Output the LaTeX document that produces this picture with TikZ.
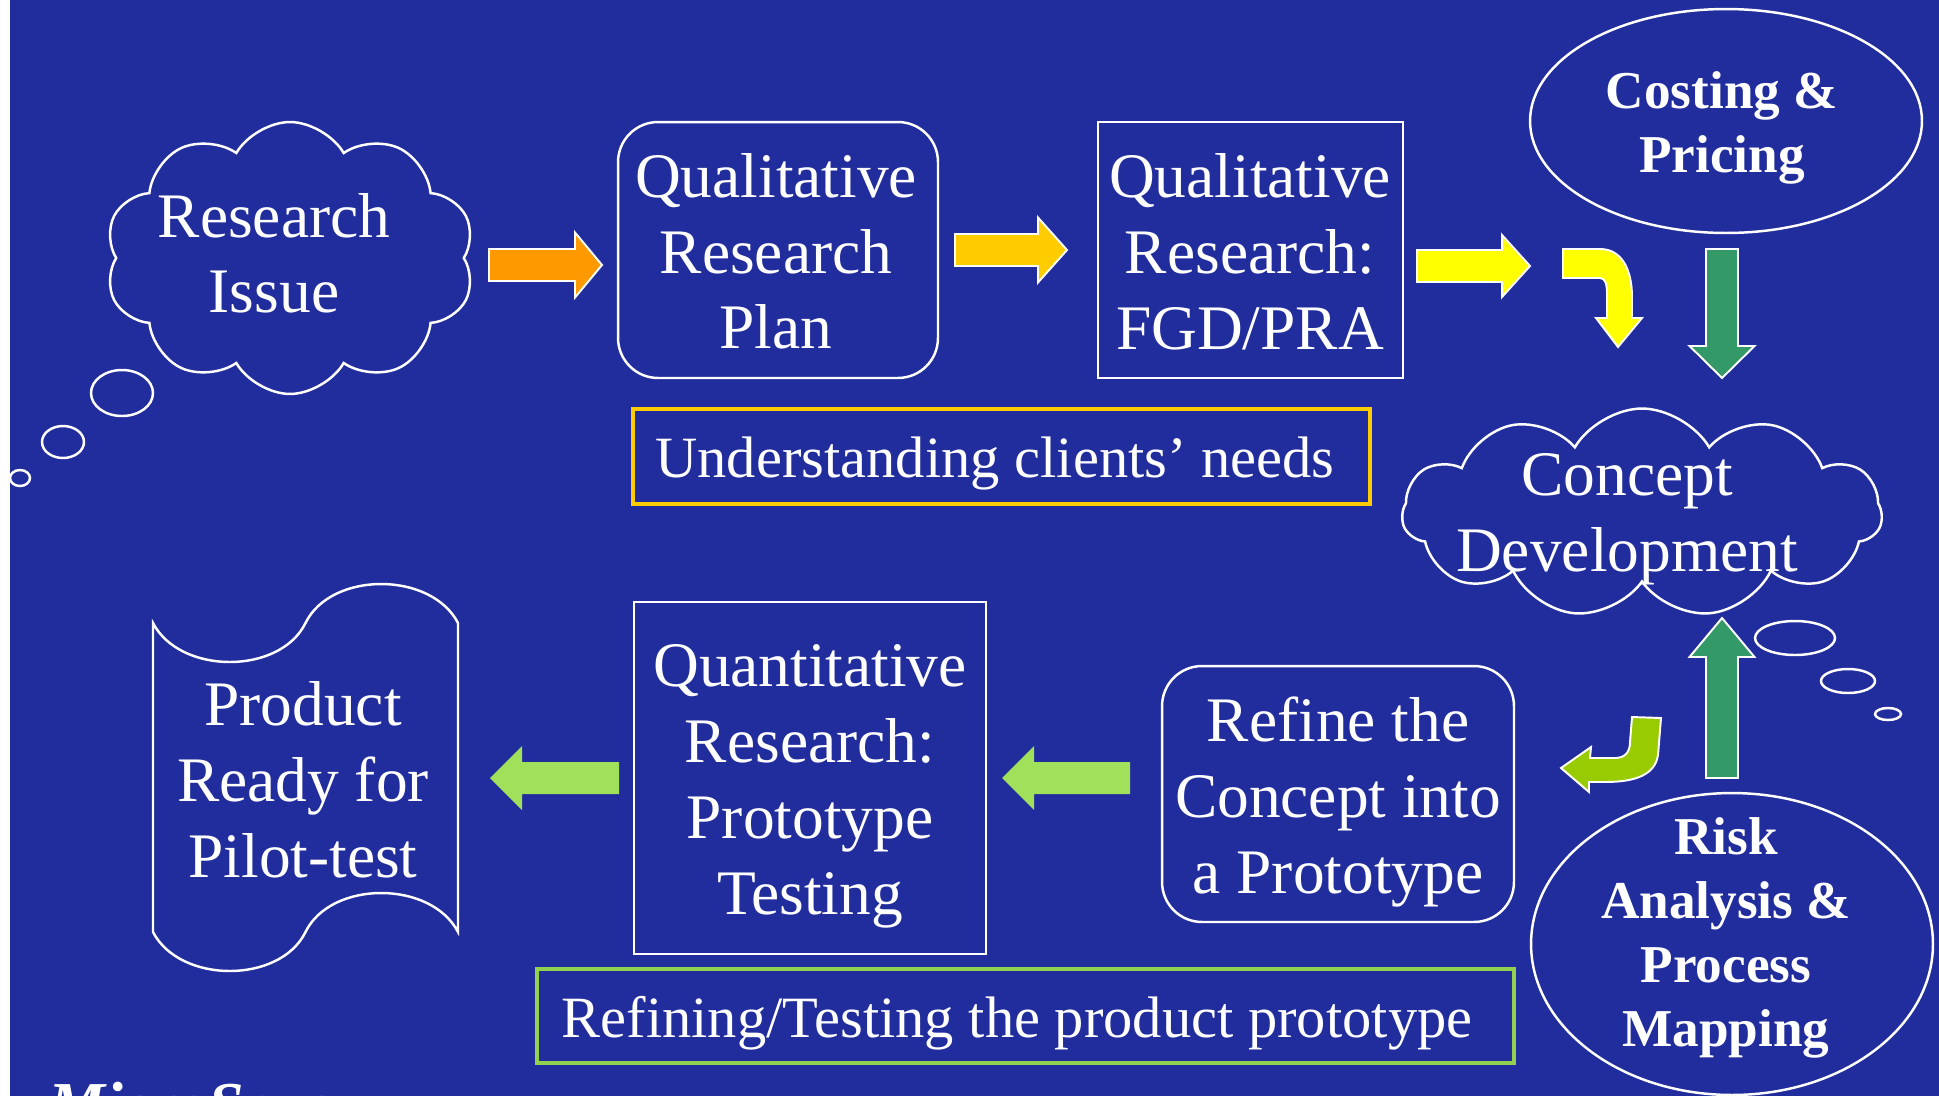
\documentclass[tikz,border=0pt]{standalone}
\usepackage{fontspec}
\setmainfont{Liberation Serif}
\usetikzlibrary{shapes.symbols,shapes.geometric}
\definecolor{bgblue}{RGB}{33,45,156}
\definecolor{arrOrange}{RGB}{255,153,0}
\definecolor{arrGold}{RGB}{255,204,0}
\definecolor{arrYellow}{RGB}{255,255,0}
\definecolor{arrGreen}{RGB}{51,153,102}
\definecolor{arrLime}{RGB}{153,204,0}
\definecolor{arrLight}{RGB}{160,224,90}
\definecolor{boxGreen}{RGB}{146,208,80}
\newcommand{\myharrow}[7]{\path[#1] (#2,{#4-#6}) -- ({#3-#5},{#4-#6}) -- ({#3-#5},{#4-#7}) -- (#3,#4) -- ({#3-#5},{#4+#7}) -- ({#3-#5},{#4+#6}) -- (#2,{#4+#6}) -- cycle;}
\newcommand{\myvarrow}[7]{\path[#1] ({#4-#6},#2) -- ({#4-#6},{#3-#5}) -- ({#4-#7},{#3-#5}) -- (#4,#3) -- ({#4+#7},{#3-#5}) -- ({#4+#6},{#3-#5}) -- ({#4+#6},#2) -- cycle;}
\tikzset{
  outl/.style={draw=white,line width=1.4pt},
  shapebox/.style={outl,inner sep=0pt,rectangle},
  roundbox/.style={shapebox,rounded corners=0.8cm},
  ovalshape/.style={outl,inner sep=0pt,ellipse},
  cloudshape/.style={outl,inner sep=0pt,cloud,cloud puff arc=120},
  maintext/.style={text=white,font=\fontsize{36.1}{43.25}\selectfont,align=center,inner sep=0pt},
  boldtext/.style={text=white,font=\bfseries\fontsize{30.3}{36.4}\selectfont,align=center,inner sep=0pt},
  labeltext/.style={text=white,font=\fontsize{33.3}{40}\selectfont,inner sep=0pt,anchor=base},
  blockarrow/.style={draw=white,line width=1.1pt,line join=miter},
}
\begin{document}
\begin{tikzpicture}[x=0.02cm,y=-0.02cm]
\useasboundingbox (0,0) rectangle (1939,1096);
\clip (0,0) rectangle (1939,1096);
\fill[white] (0,0) rectangle (10,1096);
\fill[bgblue] (10,0) rectangle (1939,1096);

% top row shapes
\node[cloudshape,cloud puffs=10,aspect=1.36,minimum width=7.4cm,minimum height=5.44cm] (ri) at (290,258) {};
\node[ovalshape,minimum width=1.24cm,minimum height=0.92cm] (rb1) at (122,393) {};
\node[ovalshape,minimum width=0.84cm,minimum height=0.64cm] (rb2) at (63,442) {};
\node[ovalshape,minimum width=0.40cm,minimum height=0.32cm] (rb3) at (20,478) {};
\node[maintext] (tri) at (274,253.3) {Research\\Issue};

\node[roundbox,minimum width=6.4cm,minimum height=5.12cm] (qp) at (778,250) {};
\node[maintext] (tqp) at (776,251.3) {Qualitative\\Research\\Plan};

\node[shapebox,minimum width=6.1cm,minimum height=5.12cm] (fgd) at (1250.5,250) {};
\node[maintext] (tfgd) at (1250,251.8) {Qualitative\\Research:\\FGD/PRA};

\node[ovalshape,minimum width=7.84cm,minimum height=4.48cm] (cp) at (1726,121) {};
\node[boldtext] (tcp) at (1722,128) {Costing \&\\Pricing};

\node[shapebox,draw=arrGold,line width=2.2pt,minimum width=14.74cm,minimum height=1.9cm] (un) at (1001.5,456.5) {};
\node[labeltext] (tun) at (995,477) {Understanding clients’ needs};

% concept cloud
\node[cloudshape,cloud puffs=11,aspect=2.3,minimum width=9.6cm,minimum height=4.18cm] (cd) at (1642,513) {};
\node[maintext] (tcd) at (1627,519) {Concept\\Development};
\node[ovalshape,minimum width=1.6cm,minimum height=0.68cm] (cb1) at (1795,638) {};
\node[ovalshape,minimum width=1.08cm,minimum height=0.48cm] (cb2) at (1848,681) {};
\node[ovalshape,minimum width=0.52cm,minimum height=0.24cm] (cb3) at (1888,714) {};

% bottom row shapes
\node[ovalshape,minimum width=8.04cm,minimum height=6.04cm] (ra) at (1732,944) {};
\node[boldtext] (tra) at (1726,937.6) {Risk\\Analysis \&\\Process\\Mapping};

\node[roundbox,minimum width=7.04cm,minimum height=5.12cm] (rf) at (1338,794) {};
\node[maintext] (trf) at (1338,802) {Refine the\\Concept into\\a Prototype};

\node[shapebox,minimum width=7.04cm,minimum height=7.04cm] (qt) at (810,778) {};
\node[maintext] (tqt) at (810,786.7) {Quantitative\\Research:\\Prototype\\Testing};

\path[outl] (153,623) .. controls (180,675) and (280,675) .. (305.5,623)
  .. controls (331,571) and (431,571) .. (458,623) -- (458,932)
  .. controls (431,880) and (331,880) .. (305.5,932)
  .. controls (280,984) and (180,984) .. (153,932) -- cycle;
\node[maintext] (tpr) at (303,779.8) {Product\\Ready for\\Pilot-test};

\node[shapebox,draw=boxGreen,line width=2.2pt,minimum width=19.54cm,minimum height=1.88cm] (rt) at (1025.5,1016) {};
\node[labeltext] (trt) at (1017,1037) {Refining/Testing the product prototype};

% block arrows
\myharrow{blockarrow,fill=arrOrange}{489}{602}{265}{27}{16}{32.5}
\myharrow{blockarrow,fill=arrGold}{955}{1067}{250}{29}{16}{32.5}
\myharrow{blockarrow,fill=arrYellow}{1417}{1530}{266}{28}{16}{31}
\path[blockarrow,fill=arrYellow] (1563,249) -- (1600,249) .. controls (1622,249) and (1632,270) .. (1632,297)
  -- (1632,318) -- (1642,318) -- (1618,347) -- (1596,318) -- (1607,318) -- (1607,293)
  .. controls (1607,284) and (1605,278) .. (1600,278) -- (1563,278) -- cycle;
\myvarrow{blockarrow,fill=arrGreen}{249}{378}{1722}{32}{16}{32.5}
\myvarrow{blockarrow,fill=arrGreen}{778}{618}{1722}{-39}{16}{32.5}
\path[blockarrow,fill=arrLime] (1632,717) -- (1661,718) -- (1658,755)
  .. controls (1655,775) and (1635,782) .. (1605,782) -- (1589,782) -- (1589,792) -- (1561,768)
  -- (1591,747) -- (1590,758) -- (1615,758) .. controls (1625,758) and (1630,752) .. (1630,742) -- cycle;
\myharrow{fill=arrLight}{619}{490}{778}{-32}{16}{32}
\myharrow{fill=arrLight}{1130}{1002}{778}{-32}{16}{32}

% footer logo, cut by the page edge
\node[text=white,font=\bfseries\itshape\fontsize{36.4}{40}\selectfont,inner sep=0pt,anchor=base west] (logo) at (48,1126) {MicroSave};
\end{tikzpicture}
\end{document}
